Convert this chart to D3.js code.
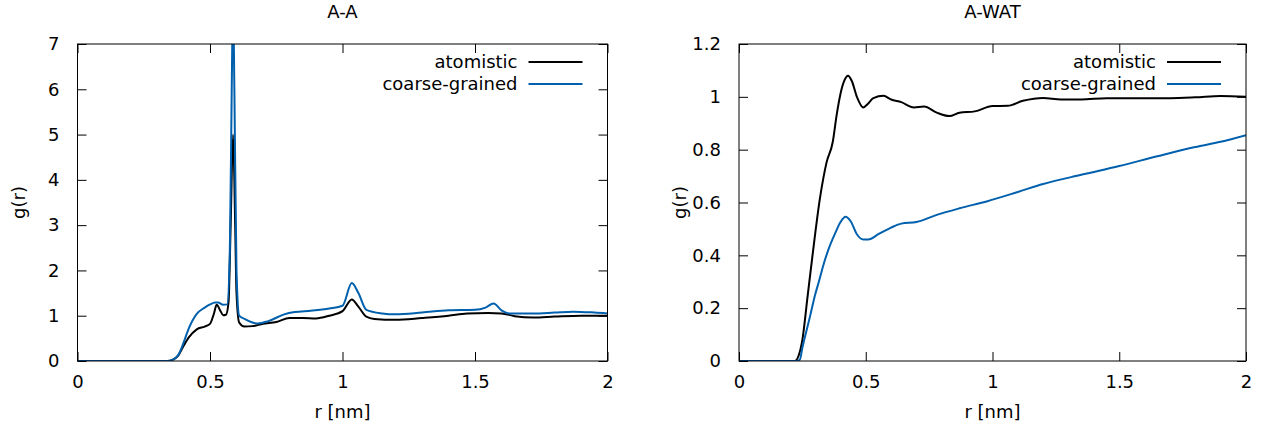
<!doctype html>
<html>
<head>
<meta charset="utf-8">
<script src="https://cdn.jsdelivr.net/npm/d3@7"></script>
<style>
  body { margin: 0; background: #fff; }
  svg { font-family: "DejaVu Sans", sans-serif; }
  .lbl { font-size: 18px; fill: #000; }
</style>
</head>
<body>
<svg width="1267" height="425"></svg>
<script>
// A-A panel
var rAA    = [0, 0.30, 0.34, 0.36, 0.38, 0.40, 0.42, 0.45, 0.48, 0.50, 0.515, 0.525, 0.54, 0.55, 0.56, 0.57, 0.578, 0.587, 0.595, 0.60, 0.61, 0.63, 0.66, 0.70, 0.75, 0.80, 0.85, 0.90, 0.95, 1.00, 1.035, 1.06, 1.09, 1.12, 1.20, 1.30, 1.40, 1.47, 1.55, 1.60, 1.65, 1.72, 1.80, 1.90, 2.0];
var gAAat  = [0, 0, 0, 0.03, 0.12, 0.33, 0.52, 0.70, 0.76, 0.82, 1.05, 1.24, 1.10, 1.01, 1.02, 1.30, 3.0, 5.0, 3.0, 1.5, 0.85, 0.76, 0.77, 0.82, 0.86, 0.95, 0.95, 0.94, 1.0, 1.1, 1.36, 1.2, 0.98, 0.93, 0.91, 0.95, 1.0, 1.05, 1.06, 1.05, 0.99, 0.96, 0.98, 1.0, 1.0];
var rAAcg  = [0, 0.34, 0.36, 0.38, 0.40, 0.42, 0.45, 0.48, 0.50, 0.52, 0.53, 0.55, 0.565, 0.575, 0.582, 0.587, 0.592, 0.60, 0.61, 0.63, 0.66, 0.68, 0.72, 0.78, 0.82, 0.88, 0.95, 1.00, 1.035, 1.06, 1.09, 1.15, 1.20, 1.30, 1.40, 1.50, 1.54, 1.57, 1.60, 1.63, 1.72, 1.80, 1.87, 1.95, 2.0];
var gAAcg  = [0, 0, 0.03, 0.13, 0.40, 0.72, 1.04, 1.18, 1.25, 1.29, 1.29, 1.24, 1.25, 2.5, 6.0, 8.0, 6.0, 2.0, 1.0, 0.93, 0.85, 0.83, 0.88, 1.03, 1.08, 1.11, 1.16, 1.22, 1.72, 1.5, 1.13, 1.05, 1.03, 1.07, 1.12, 1.13, 1.18, 1.27, 1.12, 1.05, 1.05, 1.07, 1.09, 1.07, 1.05];

// A-WAT panel
var rAW    = [0, 0.22, 0.235, 0.25, 0.27, 0.29, 0.32, 0.345, 0.37, 0.385, 0.40, 0.415, 0.43, 0.445, 0.465, 0.49, 0.51, 0.53, 0.57, 0.60, 0.64, 0.69, 0.73, 0.78, 0.83, 0.87, 0.93, 1.0, 1.06, 1.12, 1.20, 1.27, 1.35, 1.45, 1.55, 1.70, 1.80, 1.90, 2.0];
var gAWat  = [0, 0, 0.02, 0.08, 0.24, 0.40, 0.62, 0.75, 0.83, 0.93, 1.01, 1.06, 1.08, 1.06, 1.0, 0.96, 0.975, 0.995, 1.004, 0.99, 0.98, 0.96, 0.963, 0.94, 0.927, 0.94, 0.945, 0.965, 0.966, 0.985, 0.996, 0.99, 0.99, 0.995, 0.995, 0.995, 0.998, 1.003, 1.0];
var rAWcg  = [0, 0.23, 0.24, 0.25, 0.265, 0.28, 0.30, 0.315, 0.335, 0.352, 0.38, 0.40, 0.42, 0.44, 0.465, 0.49, 0.51, 0.55, 0.60, 0.64, 0.70, 0.78, 0.87, 0.98, 1.10, 1.20, 1.35, 1.50, 1.65, 1.80, 1.90, 2.0];
var gAWcg  = [0, 0, 0.005, 0.05, 0.11, 0.168, 0.25, 0.30, 0.37, 0.42, 0.485, 0.525, 0.546, 0.53, 0.48, 0.46, 0.46, 0.48, 0.505, 0.52, 0.526, 0.553, 0.578, 0.605, 0.64, 0.67, 0.705, 0.738, 0.775, 0.81, 0.83, 0.855];

var xTicks = [0, 0.5, 1, 1.5, 2];
var yTicksAA = [0, 1, 2, 3, 4, 5, 6, 7];
var yTicksAW = [0, 0.2, 0.4, 0.6, 0.8, 1, 1.2];
var seriesNames = ["atomistic", "coarse-grained"];
var colors = ["#000000", "#0060ad"];

function zip(r, g) { return r.map(function(v, i) { return [v, g[i]]; }); }

var svg = d3.select("svg");

function panel(id, title, left, right, yMax, yTicks, series) {
  var top = 44, bottom = 361;
  var x = d3.scaleLinear().domain([0, 2]).range([left, right]);
  var y = d3.scaleLinear().domain([0, yMax]).range([bottom, top]);
  var g = svg.append("g");

  g.append("clipPath").attr("id", id)
    .append("rect").attr("x", left).attr("y", top)
    .attr("width", right - left).attr("height", bottom - top);

  // ticks, all four sides, pointing inward
  var tk = 9;
  g.append("g").attr("transform", "translate(0," + bottom + ")")
    .call(d3.axisBottom(x).tickValues(xTicks).tickSize(-tk).tickPadding(14).tickFormat(d3.format("")))
    .call(function(a) { a.select(".domain").remove(); });
  g.append("g").attr("transform", "translate(0," + top + ")")
    .call(d3.axisTop(x).tickValues(xTicks).tickSize(-tk).tickFormat(""))
    .call(function(a) { a.select(".domain").remove(); });
  g.append("g").attr("transform", "translate(" + left + ",0)")
    .call(d3.axisLeft(y).tickValues(yTicks).tickSize(-tk).tickPadding(18).tickFormat(d3.format("")))
    .call(function(a) { a.select(".domain").remove(); });
  g.append("g").attr("transform", "translate(" + right + ",0)")
    .call(d3.axisRight(y).tickValues(yTicks).tickSize(-tk).tickFormat(""))
    .call(function(a) { a.select(".domain").remove(); });
  g.selectAll(".tick line").attr("stroke", "#000");
  g.selectAll(".tick text").attr("font-size", 18).attr("font-family", "DejaVu Sans").attr("fill", "#000");

  var line = d3.line()
    .x(function(d) { return x(d[0]); })
    .y(function(d) { return y(d[1]); })
    .curve(d3.curveMonotoneX);

  series.forEach(function(s, i) {
    g.append("path")
      .attr("d", line(s))
      .attr("clip-path", "url(#" + id + ")")
      .attr("fill", "none")
      .attr("stroke", colors[i])
      .attr("stroke-width", 2);
  });

  g.append("rect").attr("x", left).attr("y", top)
    .attr("width", right - left).attr("height", bottom - top)
    .attr("fill", "none").attr("stroke", "#000").attr("stroke-width", 1);

  // legend
  var legX = right - 25;
  seriesNames.forEach(function(n, i) {
    var ly = 62 + i * 22;
    g.append("text").attr("class", "lbl").attr("x", legX - 65).attr("y", ly)
      .attr("dy", "0.35em").attr("text-anchor", "end").text(n);
    g.append("line").attr("x1", legX - 54).attr("x2", legX).attr("y1", ly).attr("y2", ly)
      .attr("stroke", colors[i]).attr("stroke-width", 2);
  });

  var cx = (left + right) / 2;
  g.append("text").attr("class", "lbl").attr("x", cx).attr("y", 12).attr("dy", "0.35em")
    .attr("text-anchor", "middle").text(title);
  g.append("text").attr("class", "lbl").attr("x", cx).attr("y", 412).attr("dy", "0.35em")
    .attr("text-anchor", "middle").text("r [nm]");
  g.append("text").attr("class", "lbl")
    .attr("transform", "translate(" + (left - 59) + "," + ((top + bottom) / 2) + ") rotate(-90)")
    .attr("dy", "0.35em").attr("text-anchor", "middle").text("g(r)");
}

panel("clipAA", "A-A", 77.5, 607.5, 7, yTicksAA, [zip(rAA, gAAat), zip(rAAcg, gAAcg)]);
panel("clipAW", "A-WAT", 739, 1246, 1.2, yTicksAW, [zip(rAW, gAWat), zip(rAWcg, gAWcg)]);
</script>
</body>
</html>
